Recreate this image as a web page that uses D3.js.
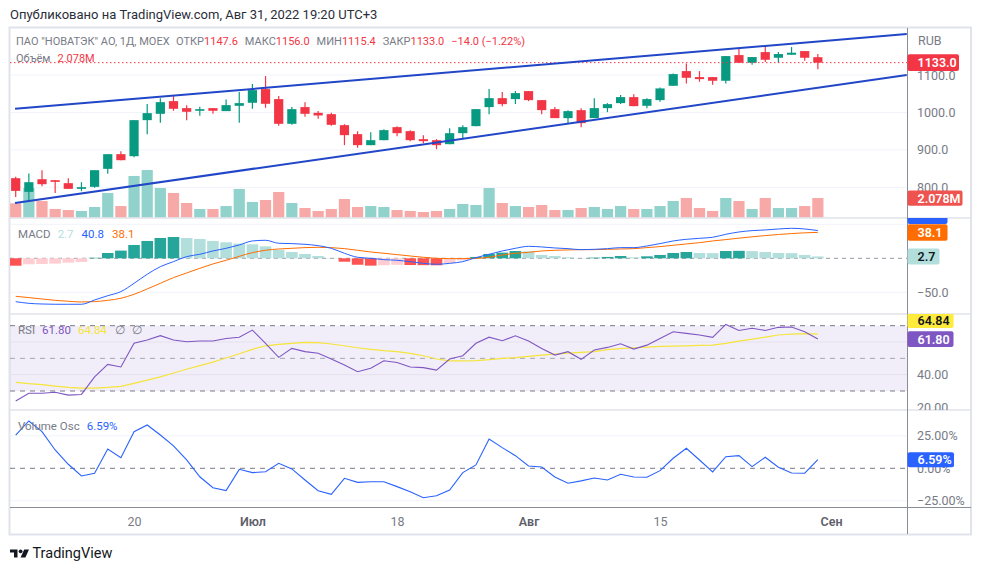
<!DOCTYPE html>
<html><head><meta charset="utf-8">
<script src="https://cdn.jsdelivr.net/npm/d3@7/dist/d3.min.js"></script>
<style>
body{margin:0;background:#fff}
svg{display:block;font-family:Roboto,"Liberation Sans",sans-serif}
</style>
</head><body>
<svg id="c" width="981" height="570"></svg>
<script>
// ---------------- DATA ----------------
const dates = [
 '2022-06-06','2022-06-07','2022-06-08','2022-06-09','2022-06-10','2022-06-14','2022-06-15','2022-06-16','2022-06-17',
 '2022-06-20','2022-06-21','2022-06-22','2022-06-23','2022-06-24','2022-06-27','2022-06-28','2022-06-29','2022-06-30','2022-07-01',
 '2022-07-04','2022-07-05','2022-07-06','2022-07-07','2022-07-08','2022-07-11','2022-07-12','2022-07-13','2022-07-14','2022-07-15',
 '2022-07-18','2022-07-19','2022-07-20','2022-07-21','2022-07-22','2022-07-25','2022-07-26','2022-07-27','2022-07-28','2022-07-29',
 '2022-08-01','2022-08-02','2022-08-03','2022-08-04','2022-08-05','2022-08-08','2022-08-09','2022-08-10','2022-08-11','2022-08-12',
 '2022-08-15','2022-08-16','2022-08-17','2022-08-18','2022-08-19','2022-08-22','2022-08-23','2022-08-24','2022-08-25','2022-08-26',
 '2022-08-29','2022-08-30','2022-08-31'];
const futureDates = ['2022-09-01'];

const openP  = [824.3,787.8,821.6,819.0,811.0,795.8,801.2,849.3,888.5,883.1,979.4,996.3,1030.2,1011.5,1004.4,1011.5,1003.5,1017.7,1025.8,1062.3,1035.6,969.6,1014.2,999.0,995.4,966.0,942.0,912.6,925.9,960.7,950.0,928.6,925.9,915.2,944.6,963.4,1014.2,1038.2,1035.6,1057.0,1032.9,1008.8,984.8,1006.1,984.8,1011.5,1024.9,1040.9,1017.7,1032.9,1071.2,1110.4,1094.4,1094.4,1084.6,1153.2,1132.7,1161.2,1146.1,1154.1,1163.9,1147.6];
const highP  = [827.9,836.8,845.7,819.0,824.3,813.6,845.7,888.5,896.5,979.4,1022.2,1038.2,1046.3,1019.5,1015.0,1011.5,1034.7,1054.3,1075.7,1097.1,1043.6,1014.2,1027.5,1003.5,999.0,968.7,950.0,947.3,955.3,963.4,952.7,939.3,928.6,958.0,966.0,1008.8,1062.3,1054.3,1057.0,1057.0,1032.9,1014.2,1006.1,1011.5,1038.2,1024.9,1046.3,1048.9,1038.2,1066.8,1104.2,1130.9,1110.4,1094.4,1150.5,1169.3,1147.9,1177.3,1161.2,1174.6,1163.9,1156.0];
const lowP   = [774.4,765.5,802.9,785.1,795.8,789.6,798.5,835.9,872.4,880.5,942.0,972.3,1004.4,979.4,991.0,996.3,1003.5,972.3,1009.7,1012.4,964.3,966.9,988.3,983.0,964.3,912.6,905.4,912.6,925.9,936.6,923.3,917.9,901.9,915.2,928.6,963.4,995.4,1016.8,1022.2,1030.2,995.4,984.8,971.4,960.7,984.8,1000.8,1022.2,1016.8,1011.5,1028.4,1071.2,1077.4,1081.9,1073.9,1077.4,1132.7,1127.4,1134.5,1132.7,1154.1,1138.1,1115.4];
const closeP = [790.4,813.6,808.3,814.5,795.8,800.3,845.7,888.5,872.4,979.4,998.1,1027.5,1009.7,1001.7,1008.8,1004.4,1019.5,1024.9,1059.6,1023.1,969.6,1008.8,996.3,991.9,966.9,939.3,912.6,925.9,952.7,944.6,925.9,923.3,912.6,944.6,960.7,1008.8,1038.2,1022.2,1051.6,1032.9,1006.1,984.8,1003.5,971.4,1011.5,1022.2,1040.9,1016.8,1035.6,1064.1,1102.4,1092.6,1089.0,1084.6,1150.5,1132.7,1147.9,1140.7,1155.9,1159.5,1146.1,1133.0];
const volumeM = [1.52,3.13,1.76,0.92,0.81,0.71,1.13,2.61,1.23,4.40,5.03,3.13,2.61,1.55,0.92,0.92,1.23,3.03,1.66,1.87,2.71,1.55,1.02,0.71,0.92,1.97,1.13,1.23,1.13,0.81,0.71,0.60,0.71,0.92,1.45,1.34,3.13,1.55,1.23,1.13,1.34,0.81,0.81,1.02,1.13,0.92,1.23,0.92,0.92,1.23,1.76,2.08,1.02,0.71,2.08,1.76,0.92,2.08,1.02,1.02,1.23,2.078];

const macdLine   = [-63.8,-66.2,-67.2,-67.6,-67.6,-67.6,-61.3,-55.0,-49.0,-36.8,-23.5,-12.3,-4.9,2.5,5.9,10.8,14.7,19.6,25.5,26.5,22.1,21.6,20.6,18.6,14.7,7.4,1.5,0.0,-2.0,-2.9,-4.9,-7.4,-8.8,-7.4,-4.9,1.0,5.9,10.8,14.7,17.6,16.7,15.2,14.2,12.7,13.2,14.2,15.7,15.7,18.1,21.6,25.5,27.9,29.4,30.9,35.3,38.7,40.7,41.7,43.1,44.1,43.1,40.8];
const signalLine = [-55.9,-57.8,-59.8,-61.8,-63.2,-64.2,-63.7,-61.8,-58.8,-52.9,-45.1,-36.8,-28.4,-21.6,-14.7,-8.3,-2.9,2.9,8.3,11.8,13.7,14.7,15.7,16.2,15.7,14.2,11.8,9.3,7.4,5.4,3.4,1.5,0.0,-0.5,-0.5,0.0,1.5,4.9,7.4,8.8,10.8,11.8,12.3,12.7,12.7,13.2,13.7,14.2,15.7,17.2,19.1,21.1,23.0,25.5,27.5,29.6,31.6,33.4,35.0,36.4,37.5,38.1];
const macdHist   = [-10.9,-8.8,-8.3,-7.8,-6.4,-5.4,0.8,7.8,11.3,19.6,25.5,29.9,31.3,29.9,28.4,25.5,23.5,21.6,20.6,17.6,12.3,9.3,6.4,3.4,0.5,-5.0,-9.5,-10.8,-10.2,-9.6,-9.9,-10.1,-10.3,-6.9,-3.0,2.0,6.4,8.3,10.7,10.2,4.9,3.4,1.5,0.4,1.0,2.0,3.4,1.5,2.9,4.9,7.8,9.3,7.8,7.6,10.7,11.0,10.6,9.3,7.8,7.6,4.9,2.7];

const rsiLine = [23.9,28.6,28.6,29.2,27.5,27.9,38.7,46.3,44.7,59.2,61.2,63.9,61.2,60.2,60.6,60.6,62.2,62.9,67.3,59.2,50.6,56.1,54.1,53.1,49.6,45.9,41.8,43.9,48.5,47.5,44.7,44.3,42.8,49.6,51.6,59.2,63.0,60.8,63.8,60.6,56.1,52.0,54.1,49.4,55.1,56.7,58.9,55.7,58.1,62.2,66.3,65.3,64.3,62.9,70.8,67.1,68.4,67.1,69.0,69.2,66.3,61.8];
const rsiMA   = [35.3,34.5,33.9,33.0,32.2,31.8,31.8,32.2,32.8,34.7,36.7,38.7,41.0,43.3,45.5,47.7,50.2,52.8,55.5,57.7,58.6,59.2,59.8,59.6,58.8,57.7,56.5,55.5,54.7,54.1,53.0,51.6,49.6,48.4,48.4,48.6,49.2,50.0,50.4,51.2,52.0,52.6,53.2,53.7,54.1,55.3,55.9,56.5,56.9,57.3,57.5,57.7,57.9,58.1,59.2,60.6,61.8,63.0,64.3,64.9,65.1,64.84];

const volOsc = [25.6,36.4,28.2,14.1,3.1,-5.9,-3.8,14.8,8.2,28.2,33.3,25.6,17.2,6.4,-6.5,-14.9,-17.2,-0.8,-3.3,-2.6,3.8,-0.5,-9.0,-17.2,-20.0,-7.7,-10.8,-10.3,-10.3,-14.1,-18.0,-22.6,-21.1,-16.7,-3.3,2.6,22.5,15.9,9.7,1.8,1.0,-6.7,-11.5,-9.7,-7.5,-9.0,-4.6,-6.7,-6.9,-1.8,7.7,15.4,6.4,-2.8,8.9,9.7,1.3,8.5,0.8,-3.6,-3.8,6.59];

// trend lines: [bar index, price]
const trendUpper = [[-0.05,1009.6],[67.76,1209.4]];
const trendLower = [[-0.05,758.3],[67.76,1099.7]];

const priceTicks = [800,900,1000,1100];
const macdTicks  = [-50];
const rsiTicks   = [40,20];
const oscTicks   = [25,0,-25];
const timeTicks  = [['2022-06-20','20'],['2022-07-01','Июл'],['2022-07-18','18'],['2022-08-01','Авг'],['2022-08-15','15'],['2022-09-01','Сен']];
const monthLabels = ['Июл','Авг','Сен'];

// ---------------- LAYOUT ----------------
const svg = d3.select('#c');
const L = 10, AX = 907, R = 971;
const pane = {main:[28,218], macd:[218,314], rsi:[314,410], osc:[410,507]};
const GRID = '#F0F3FA', SEP = '#E0E3EB', AXC = '#8a8d96', TXT='#787B86';
const UP = '#089981', DN = '#F23645';
const FONT = 'Roboto,"Liberation Sans",sans-serif';

svg.append('rect').attr('width',981).attr('height',570).attr('fill','#fff');

const allDates = dates.concat(futureDates);
const x = d3.scaleLinear().domain([0, dates.length-1]).range([15.7, 817.85]);
const yP = d3.scaleLinear().domain([800,1100]).range([187.3,75.0]);
const yV = d3.scaleLinear().domain([0,5]).range([217.7,170.3]);
const yM = d3.scaleLinear().domain([-50,50]).range([292.3,224.3]);
const yR = d3.scaleLinear().domain([30,70]).range([391,325.7]);
const yO = d3.scaleLinear().domain([-25,25]).range([500.8,435.8]);

const defs = svg.append('defs');
function clip(id, y0, y1, x1){
  defs.append('clipPath').attr('id',id).append('rect').attr('x',L).attr('y',y0).attr('width',(x1||AX)-L).attr('height',y1-y0);
  return 'url(#'+id+')';
}
const cMain = clip('cm',pane.main[0],pane.main[1]);
const cMacd = clip('cd',pane.macd[0],pane.macd[1]);
const cRsi  = clip('cr',pane.rsi[0],pane.rsi[1]);
const cOsc  = clip('co',pane.osc[0],pane.osc[1]);
const cMacdA = clip('cda',pane.macd[0],pane.macd[1],R);
const cRsiA  = clip('cra',pane.rsi[0],pane.rsi[1],R);
const cMainA = clip('cma',pane.main[0],pane.main[1],R);
const cOscA  = clip('coa',pane.osc[0],pane.osc[1],R);

const idx = d3.range(dates.length);

// ---------- header ----------
svg.append('text').attr('x',10).attr('y',18.5).attr('font-size',13).attr('fill','#2a2e39')
  .text('Опубликовано на TradingView.com, Авг 31, 2022 19:20 UTC+3');

// ---------- frame ----------
svg.append('rect').attr('x',9.5).attr('y',27.5).attr('width',R-9.5).attr('height',507)
  .attr('fill','none').attr('stroke',SEP).attr('stroke-width',2);

// ---------- MAIN PANE ----------
const gM = svg.append('g').attr('clip-path',cMain);
priceTicks.forEach(t=>gM.append('line').attr('x1',L).attr('x2',AX).attr('y1',yP(t)).attr('y2',yP(t)).attr('stroke',GRID));
gM.selectAll('rect.vol').data(idx).join('rect').attr('class','vol')
  .attr('x',i=>x(i)-5.6).attr('width',11.2)
  .attr('y',i=>yV(volumeM[i])).attr('height',i=>yV(0)-yV(volumeM[i]))
  .attr('fill',i=>closeP[i]>=openP[i]?'#92D2CC':'#F7A9A7');
gM.selectAll('line.wick').data(idx).join('line').attr('class','wick')
  .attr('x1',i=>x(i)).attr('x2',i=>x(i)).attr('y1',i=>yP(highP[i])).attr('y2',i=>yP(lowP[i]))
  .attr('stroke',i=>closeP[i]>=openP[i]?UP:DN).attr('stroke-width',1.2);
gM.selectAll('rect.body').data(idx).join('rect').attr('class','body')
  .attr('x',i=>x(i)-4.6).attr('width',9.2)
  .attr('y',i=>yP(Math.max(openP[i],closeP[i])))
  .attr('height',i=>Math.max(1.2,Math.abs(yP(openP[i])-yP(closeP[i]))))
  .attr('fill',i=>closeP[i]>=openP[i]?UP:DN);
const lastClose = closeP[closeP.length-1];
gM.append('line').attr('x1',L).attr('x2',AX).attr('y1',yP(lastClose)).attr('y2',yP(lastClose))
  .attr('stroke',DN).attr('stroke-width',1).attr('stroke-dasharray','1.5,2.5');
const tl = d3.line().x(d=>x(d[0])).y(d=>yP(d[1]));
[trendUpper,trendLower].forEach(t=>gM.append('path').attr('d',tl(t)).attr('fill','none')
  .attr('stroke','#2146C7').attr('stroke-width',2));

// ---------- MACD PANE ----------
const gD = svg.append('g').attr('clip-path',cMacd);
[50,-50].forEach(t=>gD.append('line').attr('x1',L).attr('x2',AX).attr('y1',yM(t)).attr('y2',yM(t)).attr('stroke',GRID));
gD.append('line').attr('x1',L).attr('x2',AX).attr('y1',yM(0)).attr('y2',yM(0)).attr('stroke','#9598a1').attr('stroke-dasharray','4,4');
function histColor(i){
  const v=macdHist[i], p = i>0?macdHist[i-1]:null;
  if(v>=0) return (p===null||v>p)?'#26A69A':'#B2DFDB';
  return (p===null||v<p)?'#FF5252':'#FFCDD2';
}
gD.selectAll('rect.h').data(idx).join('rect').attr('class','h')
  .attr('x',i=>x(i)-5.8).attr('width',11.6)
  .attr('y',i=>Math.min(yM(0),yM(macdHist[i]))).attr('height',i=>Math.abs(yM(macdHist[i])-yM(0)))
  .attr('fill',histColor);
const lM = d3.line().x((d,i)=>x(i)).y(d=>yM(d)).curve(d3.curveMonotoneX);
gD.append('path').attr('d',lM(signalLine)).attr('fill','none').attr('stroke','#FF6D00').attr('stroke-width',1);
gD.append('path').attr('d',lM(macdLine)).attr('fill','none').attr('stroke','#2962FF').attr('stroke-width',1);

// ---------- RSI PANE ----------
const gR = svg.append('g').attr('clip-path',cRsi);
gR.append('rect').attr('x',L).attr('width',AX-L).attr('y',yR(70)).attr('height',yR(30)-yR(70)).attr('fill','rgba(126,87,194,0.1)');
[60,40].forEach(t=>gR.append('line').attr('x1',L).attr('x2',AX).attr('y1',yR(t)).attr('y2',yR(t)).attr('stroke','#E4E0EE'));
[70,50,30].forEach(t=>gR.append('line').attr('x1',L).attr('x2',AX).attr('y1',yR(t)).attr('y2',yR(t))
   .attr('stroke',t===50?'#A3A6AF':'#787B86').attr('stroke-dasharray','5,5'));
const lR = d3.line().x((d,i)=>x(i)).y(d=>yR(d));
gR.append('path').attr('d',lR(rsiMA)).attr('fill','none').attr('stroke','#F5E43A').attr('stroke-width',1.2);
gR.append('path').attr('d',lR(rsiLine)).attr('fill','none').attr('stroke','#7E57C2').attr('stroke-width',1.1);

// ---------- VOLUME OSC PANE ----------
const gO = svg.append('g').attr('clip-path',cOsc);
[25,-25].forEach(t=>gO.append('line').attr('x1',L).attr('x2',AX).attr('y1',yO(t)).attr('y2',yO(t)).attr('stroke',GRID));
gO.append('line').attr('x1',L).attr('x2',AX).attr('y1',yO(0)).attr('y2',yO(0)).attr('stroke','#787B86').attr('stroke-dasharray','5,5');
const lO = d3.line().x((d,i)=>x(i)).y(d=>yO(d));
gO.append('path').attr('d',lO(volOsc)).attr('fill','none').attr('stroke','#2962FF').attr('stroke-width',1.1);

// ---------- separators ----------
[218,314,410].forEach(y=>svg.append('line').attr('x1',L).attr('x2',R).attr('y1',y).attr('y2',y).attr('stroke',SEP).attr('stroke-width',1.5));
svg.append('line').attr('x1',L).attr('x2',R).attr('y1',507.5).attr('y2',507.5).attr('stroke',AXC);
svg.append('line').attr('x1',AX+0.5).attr('x2',AX+0.5).attr('y1',28).attr('y2',534).attr('stroke',AXC);

// ---------- right axes ----------
function rAxis(scale,ticks,fmt,cp){
  const outer = svg.append('g').attr('clip-path',cp);
  const g = outer.append('g').attr('transform',`translate(${AX},0)`);
  g.call(d3.axisRight(scale).tickValues(ticks).tickFormat(fmt).tickSize(0).tickPadding(10));
  g.select('.domain').remove();
  g.selectAll('text').attr('fill',TXT).attr('font-size',12.5).attr('font-family',FONT);
}
const minus = s=>s.replace('-','\u2212');
rAxis(yP, priceTicks, d=>d3.format('.1f')(d), cMainA);
rAxis(yM, macdTicks, d=>minus(d3.format('.1f')(d)), cMacdA);
rAxis(yR, rsiTicks, d=>d3.format('.2f')(d), cRsiA);
rAxis(yO, oscTicks, d=>minus(d3.format('.2f')(d))+'%', cOscA);

svg.append('text').attr('x',918).attr('y',45).attr('font-size',12.5).attr('fill',TXT).text('RUB');

// ---------- value badges ----------
function badge(y0,h,w,fill,txt,tc,cp){
  const g = svg.append('g'); if(cp) g.attr('clip-path',cp);
  g.append('rect').attr('x',AX+0.5).attr('y',y0).attr('width',w).attr('height',h).attr('rx',2).attr('fill',fill);
  if(txt) g.append('text').attr('x',AX+10.5).attr('y',y0+h/2).attr('dy','0.36em').attr('font-size',12.5)
    .attr('font-weight',600).attr('fill',tc).text(txt);
}
badge(yP(lastClose)-8.3,16.6,51.5,DN,d3.format('.1f')(lastClose),'#fff');
badge(yV(volumeM[volumeM.length-1])-7.6,15.4,55,'#EF5350',volumeM[volumeM.length-1].toFixed(3)+'M','#fff');
badge(207.5,16.5,40,'#2962FF',null,'#fff',cMacdA);
badge(yM(signalLine[signalLine.length-1])-8.2,16.5,40,'#FF6D00',d3.format('.1f')(signalLine[signalLine.length-1]),'#fff');
badge(yM(macdHist[macdHist.length-1])-8,16,32,'#B2DFDB',d3.format('.1f')(macdHist[macdHist.length-1]),'#131722');
badge(312.5,15.5,46,'#FFEB3B',rsiMA[rsiMA.length-1].toFixed(2),'#131722',cRsiA);
badge(yR(rsiLine[rsiLine.length-1])-7.8,15.6,46,'#7E57C2',rsiLine[rsiLine.length-1].toFixed(2),'#fff');
badge(yO(volOsc[volOsc.length-1])-7.5,15,46.5,'#2962FF',volOsc[volOsc.length-1].toFixed(2)+'%','#fff');

// ---------- time axis ----------
const gT = svg.append('g').attr('transform','translate(0,507)');
gT.call(d3.axisBottom(x).tickValues(timeTicks.map(t=>allDates.indexOf(t[0])))
   .tickFormat((d,i)=>timeTicks[i][1]).tickSize(0).tickPadding(10));
gT.select('.domain').remove();
gT.selectAll('text').attr('font-size',12.5).attr('font-family',FONT)
  .attr('fill',function(d,i){return monthLabels.includes(timeTicks[i][1])?'#5d606b':'#787B86';})
  .attr('font-weight',function(d,i){return monthLabels.includes(timeTicks[i][1])?600:400;});

// ---------- legends ----------
function legend(xp,y,parts,size){
  const t = svg.append('text').attr('x',xp).attr('y',y).attr('font-size',size);
  parts.forEach(p=>t.append('tspan').attr('fill',p[1]).attr('dx',p[2]||0).text(p[0]));
}
legend(16,45,[['ПАО "НОВАТЭК" АО, 1Д, MOEX',TXT],['ОТКР',TXT,6.5],[openP[61].toFixed(1),DN],['МАКС',TXT,7],[highP[61].toFixed(1),DN],
  ['МИН',TXT,7],[lowP[61].toFixed(1),DN],['ЗАКР',TXT,7],[lastClose.toFixed(1),DN],['\u221214.0 (\u22121.22%)',DN,7]],11);
legend(16,62,[['Объём',TXT],[volumeM[61].toFixed(3)+'M',DN,7]],11);
legend(18,237.5,[['MACD',TXT],[macdHist[61].toFixed(1),'#B2DFDB',7],[macdLine[61].toFixed(1),'#2962FF',8],[signalLine[61].toFixed(1),'#FF6D00',8]],11.5);
legend(18,334,[['RSI',TXT],[rsiLine[61].toFixed(2),'#7E57C2',7],[rsiMA[61].toFixed(2),'#F5E43A',7],['\u2205',TXT,8],['\u2205',TXT,7]],11.5);
legend(18,430,[['Volume Osc',TXT],[volOsc[61].toFixed(2)+'%','#2962FF',7]],11.5);

// ---------- footer logo ----------
const lg = svg.append('g').attr('fill','#131722');
lg.append('path').attr('d','M10 549.5 H17.5 V557.5 H14 V552.5 H10 Z');
lg.append('circle').attr('cx',20.6).attr('cy',551.3).attr('r',1.9);
lg.append('path').attr('d','M24.2 549.5 H29 L25.4 557.5 H20.6 Z');
svg.append('text').attr('x',32.5).attr('y',557.5).attr('font-size',14.5).attr('fill','#131722').text('TradingView');
</script>
</body></html>
